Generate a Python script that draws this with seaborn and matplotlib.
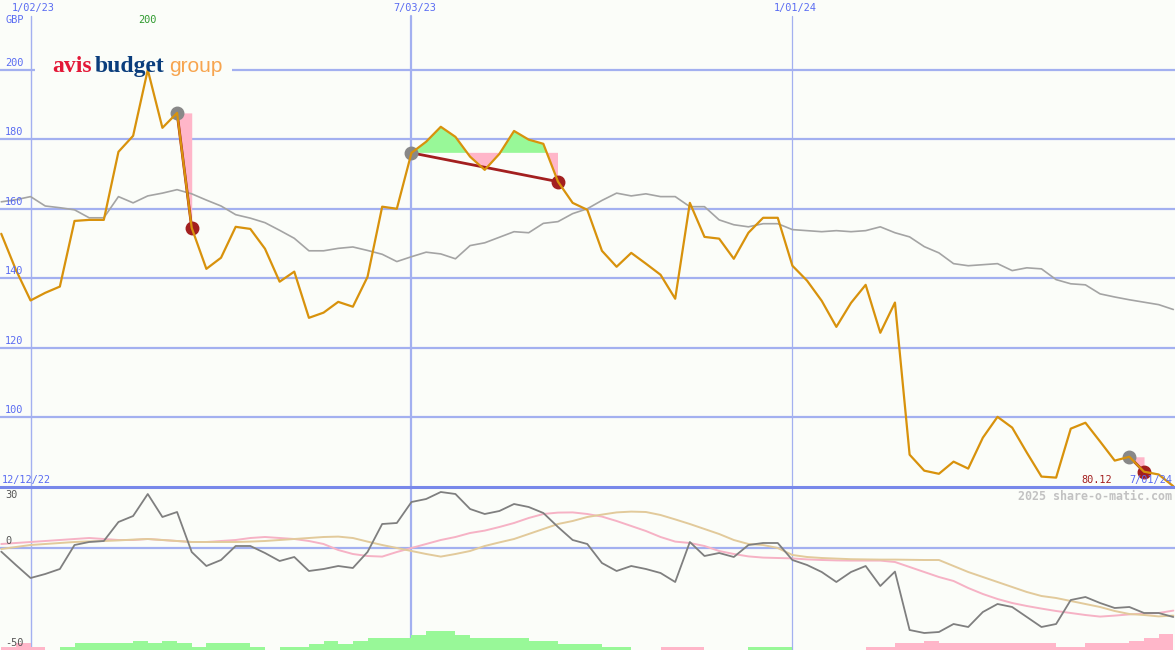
import pandas as pd
import matplotlib
matplotlib.use("Agg")
import matplotlib.pyplot as plt
import matplotlib.dates as mdates
import matplotlib.transforms as mtransforms
from matplotlib.patches import Rectangle
import seaborn as sns

# weekly closes (GBP)
price = [152.8, 142.4, 133.6, 135.8, 137.6, 156.5, 156.8, 156.8, 176.4, 181.0,
         200.0, 183.3, 187.6, 154.5, 142.7, 145.9, 154.8, 154.2, 148.5, 139.0,
         141.9, 128.6, 130.1, 133.2, 131.8, 140.4, 160.6, 160.0, 176.1, 179.3,
         183.6, 180.7, 175.0, 171.2, 175.8, 182.4, 179.9, 178.7, 167.8, 161.7,
         159.7, 147.9, 143.3, 147.3, 144.2, 141.0, 134.1, 161.7, 151.9, 151.4,
         145.6, 153.1, 157.4, 157.4, 143.6, 139.3, 133.5, 126.0, 132.9, 138.1,
         124.3, 133.0, 89.2, 84.6, 83.7, 87.2, 85.2, 94.1, 100.1, 97.0,
         89.8, 82.9, 82.6, 96.7, 98.4, 93.0, 87.5, 88.6, 84.3, 83.5,
         80.12]
price_avg = [162.0, 162.6, 163.5, 160.8, 160.3, 159.7, 157.4, 157.4, 163.5, 161.7,
             163.7, 164.5, 165.5, 164.3, 162.5, 160.8, 158.3, 157.3, 156.0, 153.8,
             151.5, 147.9, 147.9, 148.6, 149.0, 148.0, 146.9, 144.8, 146.2, 147.5,
             147.0, 145.6, 149.4, 150.2, 151.8, 153.4, 153.1, 155.8, 156.3, 158.6,
             160.0, 162.4, 164.5, 163.7, 164.3, 163.5, 163.5, 160.6, 160.6, 156.8,
             155.4, 154.8, 155.7, 155.7, 154.0, 153.7, 153.4, 153.7, 153.4, 153.7,
             154.8, 153.1, 151.9, 149.1, 147.3, 144.2, 143.6, 143.9, 144.2, 142.2,
             143.0, 142.7, 139.6, 138.4, 138.1, 135.5, 134.6, 133.8, 133.1, 132.4,
             131.0]
momentum = [-1.8, -8.5, -15, -13, -10.5, 1.5, 3, 3.5, 13, 16,
            27, 15.5, 18, -2, -9, -6, 1, 1, -2.5, -6.5,
            -4.5, -11.5, -10.5, -9, -10, -2, 12, 12.5, 23, 24.5,
            28, 27, 19.5, 17, 18.5, 22, 20.5, 17.5, 10.5, 4,
            2, -7.5, -11.5, -9, -10.5, -12.5, -17, 3, -4, -2.5,
            -4.5, 1.5, 2.5, 2.5, -6, -8.5, -12, -17, -12, -9,
            -19, -11.8, -41, -42.5, -42, -38, -39.5, -32, -28, -29.5,
            -34.5, -39.5, -38, -26, -24.5, -27.5, -30, -29.5, -32.5, -32.5,
            -34.5]
mom_avg = [2, 2.5, 3, 3.5, 4, 4.5, 5, 4.5, 4, 4,
           4.5, 4, 3.5, 3, 3, 3.5, 4, 5, 5.5, 5,
           4.5, 3.5, 2, -1, -3, -4, -4.3, -2, 0, 2,
           4, 5.5, 7.5, 8.7, 10.5, 12.5, 15, 17, 17.7, 17.8,
           17, 15.7, 13.5, 11, 8.5, 5.5, 3.2, 2.5, 1, -1.5,
           -3, -4.2, -4.8, -5, -5.2, -5.7, -6, -6.2, -6.3, -6.3,
           -6.3, -7, -9.5, -12, -14.5, -16.5, -20, -23, -25.5, -27.5,
           -29, -30.3, -31.5, -32.5, -33.5, -34.3, -33.8, -33.2, -32.8, -32.5,
           -31.3]
mom_slow = [-0.5, 0.5, 1.5, 2, 2.5, 3, 3.3, 3.5, 3.8, 4.2,
            4.5, 4, 3.5, 3, 3, 3, 3, 3.2, 3.5, 4,
            4.5, 5, 5.5, 5.7, 5, 3.2, 1.5, 0, -1.5, -3,
            -4.3, -3, -1.5, 1, 2.8, 4.5, 7, 9.5, 12, 13.5,
            15.5, 16.7, 17.8, 18.2, 18, 16.5, 14.3, 12, 9.5, 7,
            4, 2, 1.5, 0, -3.5, -4.5, -5, -5.3, -5.6, -5.7,
            -5.8, -5.8, -5.9, -6, -6, -9, -12, -14.5, -17, -19.5,
            -22, -24, -25, -26.5, -28, -29.5, -31.5, -33, -33.5, -34.2,
            -33.8]
flow = [-1.5, -3.5, -1.5, 0, 1.5, 3.5, 3.5, 3.5, 3.5, 4.5,
        3.5, 4.5, 3.5, 1.5, 3.5, 3.5, 3.5, 1.5, 0, 1.5,
        1.5, 3, 4.5, 3, 4.5, 6, 6, 6, 7.5, 9.5,
        9.5, 7.5, 6, 6, 6, 6, 4.5, 4.5, 3, 3,
        3, 1.5, 1.5, 0, 0, -1.5, -1.5, -1.5, 0, 0,
        0, 1.5, 1.5, 1.5, 0, 0, 0, 0, 0, -1.5,
        -1.5, -3.5, -3.5, -4.5, -3.5, -3.5, -3.5, -3.5, -3.5, -3.5,
        -3.5, -3.5, -1.5, -1.5, -3.5, -3.5, -3.5, -4.5, -6, -8,
        0]

first_week = "2022-12-19"
price_ticks = [200, 180, 160, 140, 120, 100]
mom_ticks = [30, 0, -50]
date_marks = ["2023-01-02", "2023-07-03", "2024-01-01"]
date_labels = ["1/02/23", "7/03/23", "1/01/24"]
sig_start = ["2023-03-13", "2023-07-03", "2024-06-10"]
sig_end = ["2023-03-20", "2023-09-11", "2024-06-17"]
start_label = "12/12/22"
end_label = "7/01/24"

BG = "#fbfdf9"
GRID = "#a3b0f0"
BLUE = "#5a6cf2"
ORANGE = "#d8920c"
RED = "#a31f1f"
GREEN_FILL = "#98f898"
PINK_FILL = "#ffb6c9"

sns.set_style("white")
plt.rcParams["font.family"] = ["DejaVu Sans Mono"]

weeks = pd.date_range(first_week, periods=len(price), freq="7D")
df = pd.DataFrame({"week": mdates.date2num(weeks), "price": price, "avg": price_avg,
                   "mom": momentum, "mom_avg": mom_avg, "mom_slow": mom_slow, "flow": flow})

W, H = 1175, 650
def fx(px):
    return px / W
def fy(py):
    return 1 - py / H

fig = plt.figure(figsize=(W / 100, H / 100), dpi=100, facecolor=BG)
ax = fig.add_axes([0, fy(487), 1, 487 / H])
ax2 = fig.add_axes([0, 0, 1, fy(487)])
for a in (ax, ax2):
    a.set_facecolor(BG)
    for s in a.spines.values():
        s.set_visible(False)
    a.tick_params(left=False, bottom=False, labelleft=False, labelbottom=False)

x0 = mdates.date2num(pd.Timestamp(date_marks[0])) - 14.6
ax.set_xlim(x0, x0 + 561.4)
ax2.set_xlim(x0, x0 + 561.4)
ax.set_ylim(79.9, 220.1)
ax2.set_ylim(-51, 30.5)

# grid
ax.set_yticks(price_ticks)
ax.yaxis.grid(True, color=GRID, lw=1.6)
ax.xaxis.grid(False)
for d, lw in zip(date_marks, [1.0, 1.6, 0.9]):
    xd = mdates.date2num(pd.Timestamp(d))
    ax.axvline(xd, ymax=1 - 16 / 487, color=GRID, lw=lw, zorder=1)
    ax2.axvline(xd, color=GRID, lw=lw, zorder=1)

# logo plate
ax.add_patch(Rectangle((fx(35), fy(84)), fx(232) - fx(35), 30 / H, transform=fig.transFigure,
                       facecolor=BG, edgecolor="none", zorder=1.5))

# price panel
sns.lineplot(data=df, x="week", y="avg", ax=ax, color="#a4a4a4", lw=1.2, zorder=3)
sns.lineplot(data=df, x="week", y="price", ax=ax, color=ORANGE, lw=1.6, zorder=5)

for s, e in zip(sig_start, sig_end):
    i0 = weeks.get_loc(pd.Timestamp(s))
    i1 = weeks.get_loc(pd.Timestamp(e))
    seg = df.iloc[i0:i1 + 1]
    level = price[i0]
    ax.fill_between(seg.week, seg.price, level, where=seg.price >= level, interpolate=True,
                    color=GREEN_FILL, lw=0, zorder=2)
    ax.fill_between(seg.week, seg.price, level, where=seg.price <= level, interpolate=True,
                    color=PINK_FILL, lw=0, zorder=2)
    ax.plot([seg.week.iloc[0], seg.week.iloc[-1]], [level, price[i1]], color=RED, lw=2, zorder=4)
    ax.plot(seg.week.iloc[0], level, "o", ms=9, color="#888888", zorder=4.5)
    ax.plot(seg.week.iloc[-1], price[i1], "o", ms=9, color=RED, zorder=4.5)

# momentum panel
ax2.axhline(0, color=GRID, lw=1.6, zorder=1)
bar_colors = [GREEN_FILL if v > 0 else PINK_FILL for v in flow]
ax2.bar(df.week, df.flow.abs(), bottom=-51, width=7, align="edge", color=bar_colors, lw=0, zorder=2)
sns.lineplot(data=df, x="week", y="mom_avg", ax=ax2, color="#f6b2c5", lw=1.4, zorder=3)
sns.lineplot(data=df, x="week", y="mom_slow", ax=ax2, color="#e2ca9b", lw=1.4, zorder=3)
sns.lineplot(data=df, x="week", y="mom", ax=ax2, color="#7f7f7f", lw=1.3, zorder=4)
ax2.spines["top"].set_visible(True)
ax2.spines["top"].set_color("#7888ea")
ax2.spines["top"].set_linewidth(2.2)

for a in (ax, ax2):
    a.set_xlabel("")
    a.set_ylabel("")

# labels
fs = 7.4
trans = mtransforms.blended_transform_factory(ax.transAxes, ax.transData)
for t in price_ticks:
    ax.text(fx(5), t, str(t), transform=mtransforms.offset_copy(trans, fig=fig, y=2, units="dots"),
            ha="left", va="bottom", color=BLUE, fontsize=fs, zorder=6)
trans2 = mtransforms.blended_transform_factory(ax2.transAxes, ax2.transData)
for t, va, dy in zip(mom_ticks, ["top", "bottom", "bottom"], [-2, 2, 0]):
    ax2.text(fx(5), t, str(t), transform=mtransforms.offset_copy(trans2, fig=fig, y=dy, units="dots"),
             ha="left", va=va, color="#555555", fontsize=fs, zorder=6)

date_trans = mtransforms.offset_copy(ax.get_xaxis_transform(), fig=fig, x=3, units="dots")
for d, lab in zip(date_marks, date_labels):
    ax.text(mdates.date2num(pd.Timestamp(d)), 1 - 8 / 487, lab, transform=date_trans,
            ha="center", va="center", color=BLUE, fontsize=fs)
peak_i = price.index(max(price))
ax.text(df.week[peak_i], 1 - 20 / 487, f"{max(price):.0f}", transform=ax.get_xaxis_transform(),
        ha="center", va="center", color="#2e9a2e", fontsize=fs)

fig.text(fx(5), fy(20), "GBP", color=BLUE, fontsize=fs, va="center")
fig.text(fx(2), fy(480), start_label, color=BLUE, fontsize=fs, va="center")
fig.text(fx(1112), fy(480), f"{price[-1]:.2f}", color=RED, fontsize=fs, ha="right", va="center")
fig.text(fx(1172), fy(480), end_label, color=BLUE, fontsize=fs, ha="right", va="center")
fig.text(fx(1172), fy(496), "2025 share-o-matic.com", color="#c2c2c2", fontsize=8.4,
         fontweight="bold", ha="right", va="center")

# logo
fig.text(fx(52), fy(72), "avis", color="#e31837", fontsize=17, fontweight="bold",
         family="Liberation Serif", va="baseline")
fig.text(fx(95), fy(72), "budget", color="#0a3d7c", fontsize=17, fontweight="bold",
         family="Liberation Serif", va="baseline")
fig.text(fx(169), fy(72), "group", color="#f7a54f", fontsize=15,
         family="Liberation Sans", va="baseline")

fig.savefig("out.png", dpi=100, facecolor=BG)
